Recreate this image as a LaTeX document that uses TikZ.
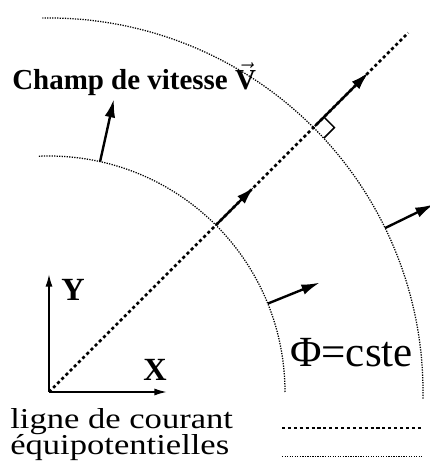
\documentclass[tikz,border=0pt]{standalone}
\usepackage{amsmath}
\usepackage{graphicx}
\usepackage{fontspec}
\setmainfont{Liberation Serif}
\usepackage{tikz}
\usetikzlibrary{arrows.meta, positioning, calc}
\tikzstyle{equipot}   = [line width=0.9pt, dash pattern=on 0.9pt off 0.9pt]
\tikzstyle{courant}   = [line width=1.8pt, dash pattern=on 2.2pt off 2pt]
\tikzstyle{vitesse}   = [line width=1.7pt, -{Latex[length=13pt, width=7.5pt]}]
\tikzstyle{axe}       = [line width=1.2pt, -{Latex[length=9pt, width=5pt]}]
\tikzstyle{lbl}       = [inner sep=0pt, font=\fontsize{20.6}{24}\selectfont\bfseries]
\tikzstyle{legtext}   = [inner sep=0pt, font=\fontsize{20.5}{24}\selectfont]
\newcommand{\wide}[1]{\scalebox{1.2}[1]{#1}}

\begin{document}
\begin{tikzpicture}
  \useasboundingbox (-1.225,-1.9) rectangle (9.5,9.8);

  % --- Axes ---
  \coordinate (O) at (0,0);
  \coordinate (xe) at (2.95,0);
  \coordinate (ye) at (0,2.95);
  \draw[axe] (O) -- (xe);
  \draw[axe] (O) -- (ye);
  \node[lbl, font=\fontsize{23}{26}\selectfont\bfseries, anchor=base east] (xl) at (2.95,0.28) {X};
  \node[lbl, font=\fontsize{23}{26}\selectfont\bfseries, anchor=base west] (yl) at (0.3,2.28) {Y};

  % --- Equipotentielles ---
  \draw[equipot] (0:5.9) arc[start angle=0, end angle=92.5, radius=5.9];
  \draw[equipot] (-1:9.35) arc[start angle=-1, end angle=91, radius=9.35];

  % --- Ligne de courant ---
  \coordinate (le) at (45:12.7);
  \draw[courant] (O) -- (le);

  % Champ de vitesse
  \draw[vitesse] (45:5.9) -- (45:7.25);
  \draw[vitesse] (45:9.4) -- (45:11.3);
  \draw[vitesse] (77.5:5.9) -- (77.5:7.5);
  \draw[vitesse] (22:5.9) -- (22:7.3);
  \draw[vitesse] (26:9.35) -- (26:10.7);

  % angle droit
  \draw[line width=1.1pt] (45:9.72) -- ++(-45:0.37) -- ++(-135:0.37);

  \node[lbl, anchor=base west] (titre) at (-0.925,7.55) {Champ de vitesse $\vec{\textbf{V}}$};
  \node[inner sep=0pt, anchor=base west, font=\fontsize{30.6}{34}\selectfont] (phi) at (6.025,0.625) {Φ=cste};

  % --- Legende ---
  \node[legtext, anchor=base west] (l1) at (-0.975,-0.9) {\wide{ligne de courant}};
  \node[legtext, anchor=base west] (l2) at (-0.975,-1.57) {\wide{équipotentielles}};
  \coordinate (a1) at (5.825,-0.9);  \coordinate (b1) at (9.325,-0.9);
  \coordinate (a2) at (5.825,-1.62); \coordinate (b2) at (9.325,-1.62);
  \draw[courant] (a1) -- (b1);
  \draw[equipot] (a2) -- (b2);
\end{tikzpicture}
\end{document}
